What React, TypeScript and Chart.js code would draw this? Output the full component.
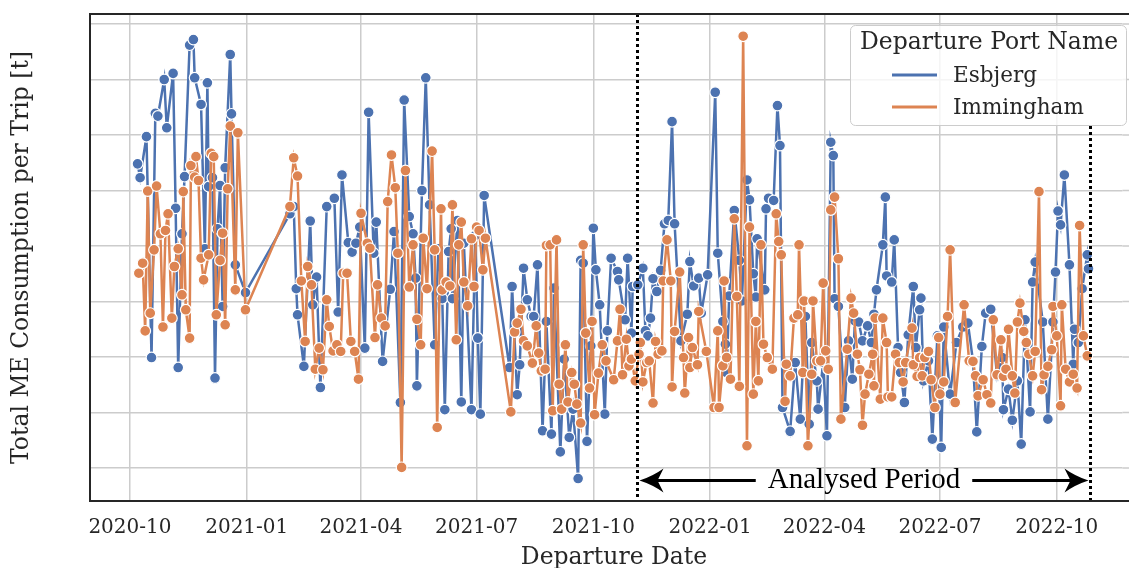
import React, { useEffect, useRef } from 'react';
import { Chart, registerables } from 'chart.js';

Chart.register(...registerables);

// ---------------- data ----------------
// x values are days since 2020-10-01
const EPOCH = Date.UTC(2020, 9, 1);
const dayOf = (s: string) => {
  const [y, m, d] = s.split('-').map(Number);
  return (Date.UTC(y, m - 1, d || 1) - EPOCH) / 86400000;
};

const tickLabels = ['2020-10', '2021-01', '2021-04', '2021-07', '2021-10', '2022-01', '2022-04', '2022-07', '2022-10'];
const gridValues = [10, 20, 30, 40, 50, 60, 70, 80, 90];

const seriesNames = ['Esbjerg', 'Immingham'];
const seriesColors = ['#4c72b0', '#dd8452'];

const esbjergDays = [
  6, 8, 13, 17, 20, 22, 27, 29, 34, 36, 38, 41, 43, 47, 50, 51, 56, 59, 61, 62, 65, 67, 69, 71, 73, 75, 79, 80, 83, 91,
  126, 129, 131, 132, 137, 142, 144, 147, 150, 155, 161, 164, 167, 172, 175, 178, 181, 185, 188, 192, 194, 199, 205, 208, 213, 216, 220, 223, 225, 226,
  230, 233, 236, 240, 243, 246, 248, 251, 253, 254, 258, 261, 263, 269, 272, 274, 276, 279,
  299, 301, 305, 307, 310, 313, 316, 318, 321, 325, 328, 332, 334, 339, 342, 346, 349, 353, 355, 357, 360, 363, 365, 367, 370, 374, 376, 379, 384, 385,
  390, 392, 395, 396, 400, 404, 406, 408, 410, 412, 415, 418, 421, 424, 427, 429, 434, 439, 441, 444, 448, 450, 455, 461, 463, 467, 469,
  470, 472, 476, 480, 482, 486, 488, 491, 493, 494, 500, 501, 503, 507, 510, 512, 514, 520, 524, 528, 532, 535, 537, 541, 542, 546, 549, 552, 554, 555, 558, 563, 566,
  569, 571, 574, 577, 581, 584, 586, 588, 593, 595, 596, 600, 602, 605, 607, 610, 613, 617, 619, 622, 623, 625, 629, 632, 636, 639, 641, 646, 651, 656,
  660, 664, 667, 671, 674, 678, 683, 687, 688, 692, 695, 699, 702, 705, 709, 711, 713, 719, 723, 727, 729, 731, 733, 736, 740, 743, 744, 747, 750, 754, 755,
];
const esbjergValues = [
  64.8, 62.3, 69.7, 29.9, 73.9, 73.4, 80.0, 71.3, 81.1, 56.8, 28.1, 52.2, 62.5, 86.2, 87.2, 80.3, 75.5, 49.5, 79.4, 60.7, 62.3, 26.2, 53.1, 60.9, 39.1, 64.1, 84.5, 73.8, 46.6, 41.6,
  55.8, 57.1, 42.3, 37.6, 28.3, 54.5, 39.4, 44.4, 24.5, 57.1, 58.6, 38.1, 62.8, 50.6, 48.9, 50.5, 53.4, 31.6, 74.1, 48.7, 54.3, 29.2, 42.2, 52.6, 21.8, 76.3, 55.3, 52.2, 44.2, 24.8,
  60.0, 80.3, 57.4, 32.2, 49.5, 40.5, 20.5, 49.0, 53.1, 40.5, 54.6, 21.9, 50.5, 20.5, 51.9, 33.4, 19.7, 59.1,
  28.1, 42.7, 23.2, 28.6, 46.0, 40.3, 37.3, 37.3, 46.6, 16.7, 36.4, 16.1, 42.4, 12.9, 29.6, 15.5, 20.6, 8.1, 47.4, 46.9, 14.8, 32.0, 53.2, 45.7, 39.4, 19.7, 34.7, 47.8, 45.4, 43.9,
  36.7, 47.8, 34.3, 42.7, 43.0, 46.0, 34.7, 33.8, 37.0, 44.1, 41.8, 45.6, 54.0, 54.6, 72.4, 54.0, 32.9, 37.7, 47.2, 42.8, 44.2, 37.9, 44.8, 77.7, 48.7, 36.4, 32.3,
  27.2, 41.0, 56.4, 47.4, 40.1, 61.9, 58.3, 45.0, 40.8, 51.3, 42.1, 56.7, 58.6, 58.2, 75.3, 68.1, 20.9, 16.6, 29.0, 18.8, 37.3, 17.9, 32.6, 25.7, 20.6, 29.0, 15.8, 68.7, 66.3, 40.5, 39.1, 20.9, 32.9,
  26.0, 36.5, 36.3, 32.9, 35.6, 32.6, 37.7, 42.1, 50.2, 58.8, 44.6, 43.5, 51.1, 31.7, 27.2, 21.8, 34.0, 42.7, 31.7, 38.5, 40.6, 25.7, 29.3, 15.2, 33.8, 13.7, 35.4, 23.3, 32.6, 35.4,
  36.1, 29.3, 16.5, 31.9, 37.9, 38.6, 26.6, 29.9, 20.5, 24.2, 18.6, 25.7, 14.3, 36.7, 20.1, 43.5, 47.1, 36.3, 18.8, 36.3, 45.3, 56.3, 53.8, 62.8, 46.6, 28.7, 35.0, 32.6, 42.3, 48.4, 45.9,
];

const imminghamDays = [
  7, 10, 12, 14, 16, 19, 21, 24, 26, 28, 30, 33, 35, 38, 41, 42, 44, 47, 48, 51, 52, 54, 56, 58, 62, 64, 66, 68, 71, 73, 75, 77, 79, 83, 85, 91,
  126, 129, 132, 135, 138, 140, 143, 146, 149, 152, 155, 157, 160, 163, 166, 168, 171, 174, 177, 180, 182, 187, 189,
  193, 195, 198, 201, 203, 206, 209, 211, 214, 217, 220, 223, 226, 229, 231, 234, 238, 240, 242, 245, 246, 249, 252, 254, 257, 259, 261,
  263, 266, 269, 271, 273, 275, 278, 280,
  300, 303, 305, 308, 310, 313, 317, 320, 322, 324, 327, 328, 331, 333, 336, 338, 340, 343, 345, 348, 350, 352, 355, 357, 359, 362, 364, 366, 369, 372,
  375, 381, 384, 386, 388, 391, 393, 395, 398, 401, 402, 404, 407, 409, 412, 414, 416, 419, 420, 423, 426, 427, 429, 433, 436, 437, 440, 441, 443, 447,
  448, 454, 460, 463, 464, 467, 468, 470,
  473, 476, 478, 480, 483, 486, 488, 491, 493, 495, 497, 499, 502, 506, 509, 511, 513, 516, 517, 520, 523, 526, 527, 530, 531, 534, 537, 538, 541, 544,
  546, 548, 550, 552, 555, 558, 560,
  565, 568, 570, 573, 575, 577, 579, 582, 585, 586, 587, 591, 593, 596, 597, 600, 603, 606, 609, 611, 616, 617, 620, 622, 624, 626, 629, 631, 634, 637,
  638, 641, 644, 646, 650, 657,
  661, 664, 666, 668, 672, 675, 678, 680, 683, 686, 688, 690, 692, 695, 697, 699, 701, 704, 706, 708, 711, 713, 716, 718, 720, 723, 726, 727, 730, 733,
  734, 737, 740, 743, 746, 748, 751, 754,
];
const imminghamValues = [
  45.1, 46.9, 34.7, 59.9, 37.9, 49.3, 60.8, 52.2, 35.4, 52.8, 55.8, 37.0, 46.3, 49.5, 41.2, 59.8, 38.5, 33.4, 64.5, 62.4, 66.1, 61.8, 47.8, 43.9, 48.4, 66.7, 66.1, 37.6, 47.4, 52.3, 35.8, 60.3, 71.6, 42.1, 70.4, 38.5,
  57.1, 65.9, 62.6, 43.7, 32.8, 46.3, 43.0, 27.8, 31.6, 27.7, 40.3, 35.5, 31.1, 32.2, 31.0, 45.1, 45.1, 32.8, 31.0, 26.0, 55.9, 50.5, 49.6,
  33.5, 43.0, 37.0, 35.6, 58.0, 66.4, 60.5, 48.7, 10.1, 63.6, 42.6, 50.2, 36.8, 32.2, 51.4, 42.3, 67.1, 49.3, 17.3, 56.7, 42.1, 43.5, 42.8, 57.4, 33.1, 50.2, 54.3,
  43.5, 39.2, 51.3, 42.7, 53.4, 52.8, 45.7, 51.4,
  20.1, 34.5, 36.1, 38.6, 32.9, 32.0, 28.9, 35.6, 30.7, 27.5, 27.8, 50.1, 50.2, 20.3, 51.1, 25.1, 20.6, 32.2, 21.9, 27.2, 25.1, 21.5, 18.1, 50.2, 34.3, 24.4, 36.4, 19.6, 27.1, 32.2,
  29.3, 25.9, 32.9, 38.6, 26.8, 33.2, 28.4, 29.6, 25.7, 30.5, 32.6, 25.5, 29.0, 29.3, 21.7, 32.8, 30.5, 31.1, 43.7, 51.1, 43.7, 24.6, 34.6, 45.3, 29.9, 23.5, 33.5, 28.1, 31.7, 28.6,
  38.2, 31.0, 20.9, 34.7, 20.9, 28.4, 43.7, 29.9,
  26.0, 54.9, 40.9, 24.7, 87.8, 14.0, 53.4, 23.3, 36.4, 25.7, 50.2, 32.3, 29.9, 27.8, 55.8, 50.8, 48.4, 22.0, 28.7, 26.6, 37.0, 37.6, 50.2, 27.2, 40.1, 14.0, 26.9, 40.1, 29.3, 29.3,
  43.3, 31.1, 27.8, 56.5, 58.8, 47.7, 18.8,
  31.4, 40.6, 37.9, 30.5, 27.7, 17.7, 23.3, 26.9, 30.5, 24.8, 37.0, 22.4, 37.0, 32.6, 22.8, 22.8, 30.5, 29.0, 25.5, 29.0, 35.2, 28.6, 26.5, 29.9, 26.6, 29.9, 31.0, 25.9, 20.9, 33.5,
  23.3, 25.5, 37.3, 49.3, 21.8, 39.4,
  29.3, 29.2, 26.6, 23.0, 25.9, 23.2, 21.7, 36.7, 26.8, 33.1, 26.5, 27.8, 35.0, 26.6, 23.5, 36.3, 39.7, 34.6, 32.6, 30.5, 26.6, 31.0, 59.8, 24.1, 26.8, 28.3, 31.3, 39.1, 33.8, 21.2,
  39.4, 27.8, 25.5, 26.9, 24.4, 53.7, 33.8, 30.2,
];

const analysedStart = '2021-11-04';
const analysedEnd = '2022-10-27';
const analysedLabel = 'Analysed Period';
const arrowLevel = 7.8;      // y value of the arrow
const rightMarkerTop = 71.6; // right dotted line starts below the legend

const xMinDay = -31.46;
const xMaxDay = 781.7;
const yMin = 4.05;
const yMax = 91.8;

const TEXT = '#262626';
const SERIF = 'DejaVu Serif';
const xTitle = 'Departure Date';
const yTitle = 'Total ME Consumption per Trip [t]';
const legendTitle = 'Departure Port Name';

const toPoints = (days: number[], vals: number[]) => days.map((d, i) => ({ x: d, y: vals[i] }));

const overlayPlugin = {
  id: 'overlay',
  beforeDatasetsDraw(chart: any) {
    // extend horizontal grid lines to the canvas edge
    const { ctx, chartArea: a, scales } = chart;
    ctx.save();
    ctx.strokeStyle = '#cccccc';
    ctx.lineWidth = 1.5;
    ctx.beginPath();
    gridValues.forEach((v) => {
      const py = scales.y.getPixelForValue(v);
      ctx.moveTo(a.right, py);
      ctx.lineTo(chart.width, py);
    });
    ctx.stroke();
    ctx.restore();
  },
  afterDatasetsDraw(chart: any) {
    const { ctx, chartArea: a, scales } = chart;
    const x = scales.x, y = scales.y;
    const xl = Math.round(x.getPixelForValue(dayOf(analysedStart))) + 0.5;
    const xr = Math.round(x.getPixelForValue(dayOf(analysedEnd))) + 0.5;
    ctx.save();
    ctx.strokeStyle = '#000';
    ctx.lineWidth = 3;
    ctx.lineCap = 'butt';
    ctx.setLineDash([3, 3]);
    ctx.beginPath();
    ctx.moveTo(xl, a.top);
    ctx.lineTo(xl, a.bottom);
    ctx.moveTo(xr, Math.round(y.getPixelForValue(rightMarkerTop)));
    ctx.lineTo(xr, a.bottom);
    ctx.stroke();
    ctx.setLineDash([]);
    const ay = Math.round(y.getPixelForValue(arrowLevel)) + 0.5;
    const cx = (xl + xr) / 2;
    ctx.font = `29px "Liberation Serif"`;
    ctx.fillStyle = '#000';
    ctx.textAlign = 'center';
    ctx.textBaseline = 'middle';
    const w = ctx.measureText(analysedLabel).width;
    ctx.fillText(analysedLabel, cx, ay);
    const gap = 12;
    const tipL = xl + 2, tipR = xr - 2;
    ctx.lineWidth = 3;
    ctx.beginPath();
    ctx.moveTo(cx - w / 2 - gap, ay);
    ctx.lineTo(tipL + 15, ay);
    ctx.moveTo(cx + w / 2 + gap, ay);
    ctx.lineTo(tipR - 15, ay);
    ctx.stroke();
    const head = (tip: number, dir: number) => {
      const L = 24, W = 12, notch = 6;
      ctx.beginPath();
      ctx.moveTo(tip, ay);
      ctx.quadraticCurveTo(tip - dir * L * 0.55, ay - W * 0.35, tip - dir * L, ay - W);
      ctx.lineTo(tip - dir * (L - notch), ay);
      ctx.lineTo(tip - dir * L, ay + W);
      ctx.quadraticCurveTo(tip - dir * L * 0.55, ay + W * 0.35, tip, ay);
      ctx.closePath();
      ctx.fill();
    };
    head(tipL, -1);
    head(tipR, 1);
    ctx.restore();
  },
  afterDraw(chart: any) {
    const { ctx, chartArea: a } = chart;
    const W = chart.width;
    ctx.save();
    // frame
    ctx.strokeStyle = TEXT;
    ctx.lineWidth = 2;
    ctx.beginPath();
    ctx.moveTo(W, a.top);
    ctx.lineTo(a.left, a.top);
    ctx.lineTo(a.left, a.bottom);
    ctx.lineTo(W, a.bottom);
    ctx.stroke();
    // x axis title
    ctx.fillStyle = TEXT;
    ctx.font = `23.5px "${SERIF}"`;
    ctx.textAlign = 'center';
    ctx.textBaseline = 'alphabetic';
    ctx.fillText(xTitle, 614, 564);
    // legend
    const bw = 276, bh = 100;
    const bx = W - 3 - bw, by = a.top + 11;
    ctx.fillStyle = 'rgba(255,255,255,0.8)';
    ctx.strokeStyle = '#cccccc';
    ctx.lineWidth = 1;
    ctx.beginPath();
    (ctx as any).roundRect(bx + 0.5, by + 0.5, bw, bh, 5);
    ctx.fill();
    ctx.stroke();
    ctx.fillStyle = TEXT;
    ctx.textBaseline = 'middle';
    ctx.textAlign = 'center';
    ctx.font = `23.5px "${SERIF}"`;
    ctx.fillText(legendTitle, bx + bw / 2 + 1, by + 18);
    ctx.textAlign = 'left';
    ctx.font = `21.5px "${SERIF}"`;
    chart.data.datasets.forEach((ds: any, i: number) => {
      const ly = by + 50 + i * 32;
      ctx.strokeStyle = ds.borderColor;
      ctx.lineWidth = 3;
      ctx.beginPath();
      ctx.moveTo(bx + 42, ly);
      ctx.lineTo(bx + 87, ly);
      ctx.stroke();
      ctx.fillStyle = TEXT;
      ctx.fillText(ds.label, bx + 103, ly + 1);
    });
    ctx.restore();
  },
};

export default function App() {
  const ref = useRef<HTMLCanvasElement>(null);
  useEffect(() => {
    document.body.style.margin = '0';
    const tickDays = tickLabels.map((l) => dayOf(l));
    const makeDs = (i: number, days: number[], vals: number[], order: number) => ({
      label: seriesNames[i],
      data: toPoints(days, vals),
      borderColor: seriesColors[i],
      backgroundColor: seriesColors[i],
      pointBackgroundColor: seriesColors[i],
      pointBorderColor: '#ffffff',
      pointBorderWidth: 1.2,
      pointRadius: 5.4,
      borderWidth: 2.5,
      order,
    });
    const chart = new Chart(ref.current as HTMLCanvasElement, {
      type: 'line',
      data: {
        datasets: [makeDs(0, esbjergDays, esbjergValues, 1), makeDs(1, imminghamDays, imminghamValues, 0)],
      },
      options: {
        responsive: false,
        devicePixelRatio: 1,
        animation: false,
        layout: { padding: { top: 14, left: 0, right: 0, bottom: 0 } },
        elements: { line: { tension: 0 } },
        plugins: { legend: { display: false }, tooltip: { enabled: false }, title: { display: false } },
        scales: {
          x: {
            type: 'linear',
            min: xMinDay,
            max: xMaxDay,
            afterBuildTicks: (s: any) => {
              s.ticks = tickDays.map((v) => ({ value: v }));
            },
            afterFit: (s: any) => {
              s.height = 67;
            },
            ticks: {
              autoSkip: false,
              maxRotation: 0,
              padding: 15,
              color: TEXT,
              font: { family: SERIF, size: 20 },
              callback: (_v: any, i: number) => tickLabels[i],
            },
            grid: { color: '#cccccc', lineWidth: 1.5, drawTicks: false },
            border: { display: false },
            title: { display: false },
          },
          y: {
            type: 'linear',
            min: yMin,
            max: yMax,
            afterBuildTicks: (s: any) => {
              s.ticks = gridValues.map((v) => ({ value: v }));
            },
            afterFit: (s: any) => {
              s.width = 90;
            },
            ticks: { display: false },
            grid: { color: '#cccccc', lineWidth: 1.5, drawTicks: false },
            border: { display: false },
            title: {
              display: true,
              text: yTitle,
              color: TEXT,
              font: { family: SERIF, size: 23.5 },
              padding: { top: 8, bottom: 0 },
            },
          },
        },
      } as any,
      plugins: [overlayPlugin],
    });
    return () => chart.destroy();
  }, []);
  return (
    <div style={{ position: 'fixed', left: 0, top: 0, width: 1129, height: 568, background: '#fff' }}>
      <canvas ref={ref} width={1129} height={568} style={{ display: 'block' }} />
    </div>
  );
}
